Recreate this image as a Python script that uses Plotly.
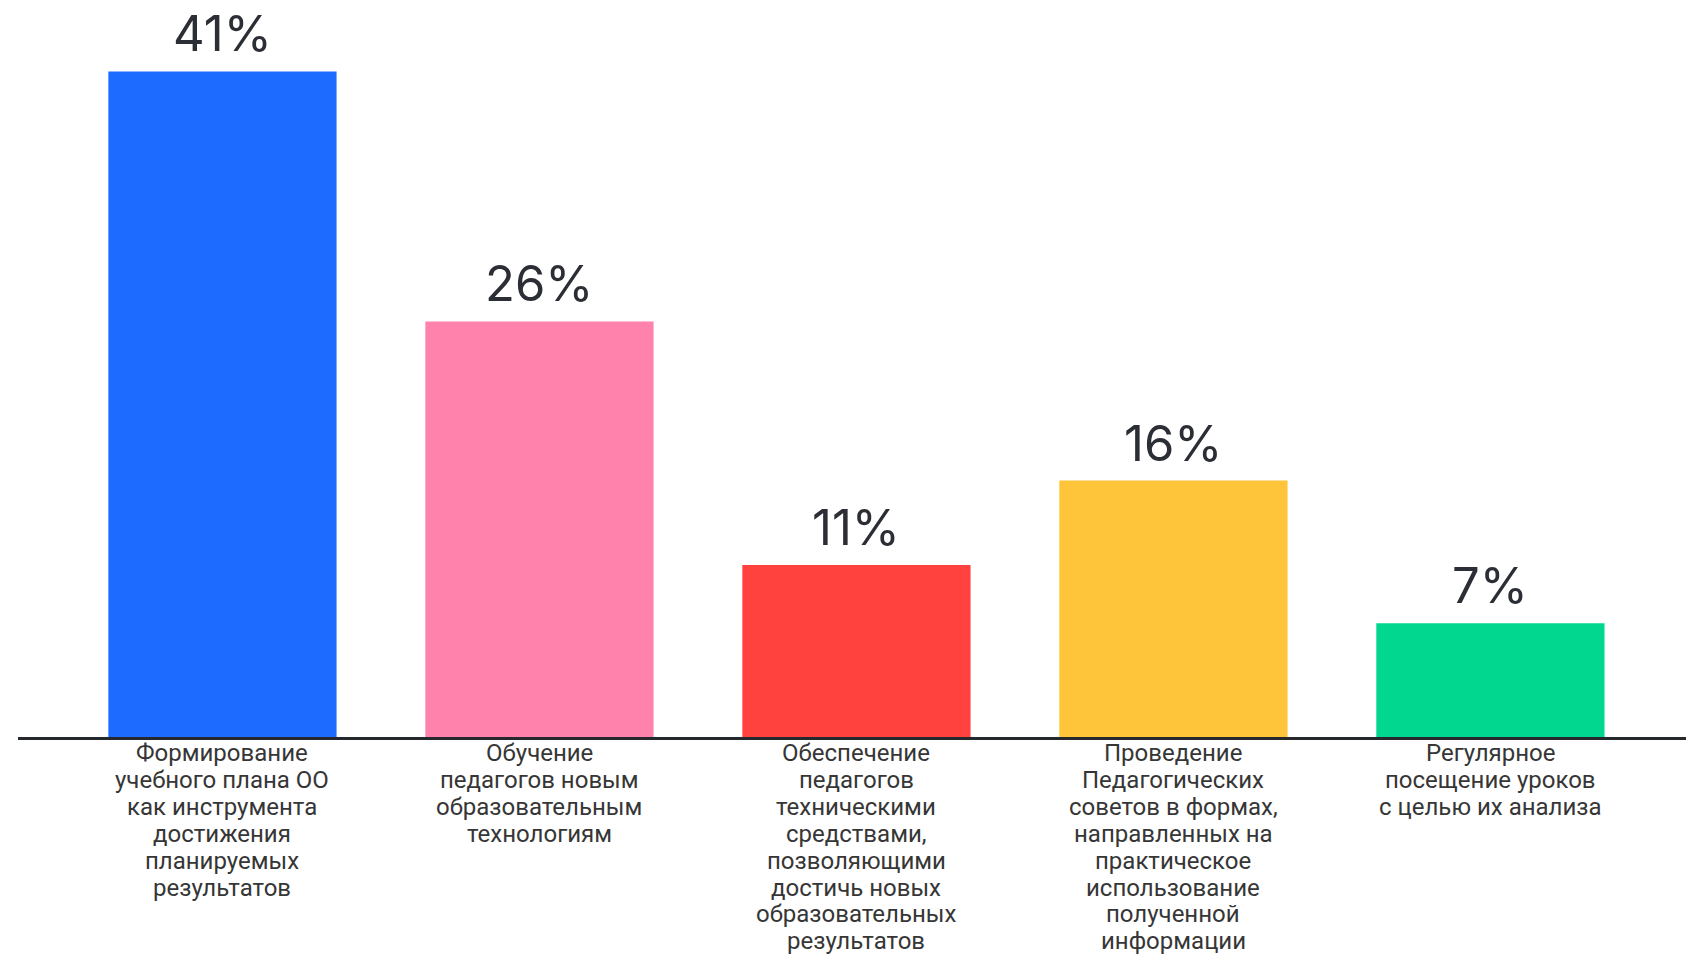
import plotly.graph_objects as go

categories = [
    "Формирование<br>учебного плана ОО<br>как инструмента<br>достижения<br>планируемых<br>результатов",
    "Обучение<br>педагогов новым<br>образовательным<br>технологиям",
    "Обеспечение<br>педагогов<br>техническими<br>средствами,<br>позволяющими<br>достичь новых<br>образовательных<br>результатов",
    "Проведение<br>Педагогических<br>советов в формах,<br>направленных на<br>практическое<br>использование<br>полученной<br>информации",
    "Регулярное<br>посещение уроков<br>с целью их анализа",
]
values = [41, 25.6, 10.6, 15.8, 7.0]
labels = ["41%", "26%", "11%", "16%", "7%"]
colors = ["#1E6BFF", "#FF82AC", "#FF423D", "#FEC53A", "#02D78F"]

fig = go.Figure()
fig.add_trace(go.Bar(
    x=categories, y=values, marker=dict(color=colors, line=dict(width=0)),
    width=0.72, hoverinfo="skip",
))
for c, v, t in zip(categories, values, labels):
    fig.add_annotation(x=c, y=v, text=t, showarrow=False, yanchor="bottom",
                       yshift=6, font=dict(family="Inter", size=49, color="#2B2E35"))

LINE_H = 26.9
for c in categories:
    for i, line in enumerate(c.split("<br>")):
        fig.add_annotation(x=c, y=0, text=line, showarrow=False, yanchor="middle",
                           yshift=-16 - i * LINE_H,
                           font=dict(family="Roboto", size=24, color="#363636"))

fig.update_layout(
    width=1686, height=955,
    margin=dict(l=18, r=0, t=0, b=218),
    plot_bgcolor="white", paper_bgcolor="white",
    showlegend=False,
    xaxis=dict(range=[-0.645, 4.617], showline=True, linecolor="#25282D", linewidth=3,
               ticks="", showgrid=False, showticklabels=False),
    yaxis=dict(range=[0, 45.4], visible=False, showgrid=False, zeroline=False),
)
fig.write_html("out.html", config={"displayModeBar": False},
               post_script="document.body.style.margin='0';document.body.style.overflow='hidden';")
